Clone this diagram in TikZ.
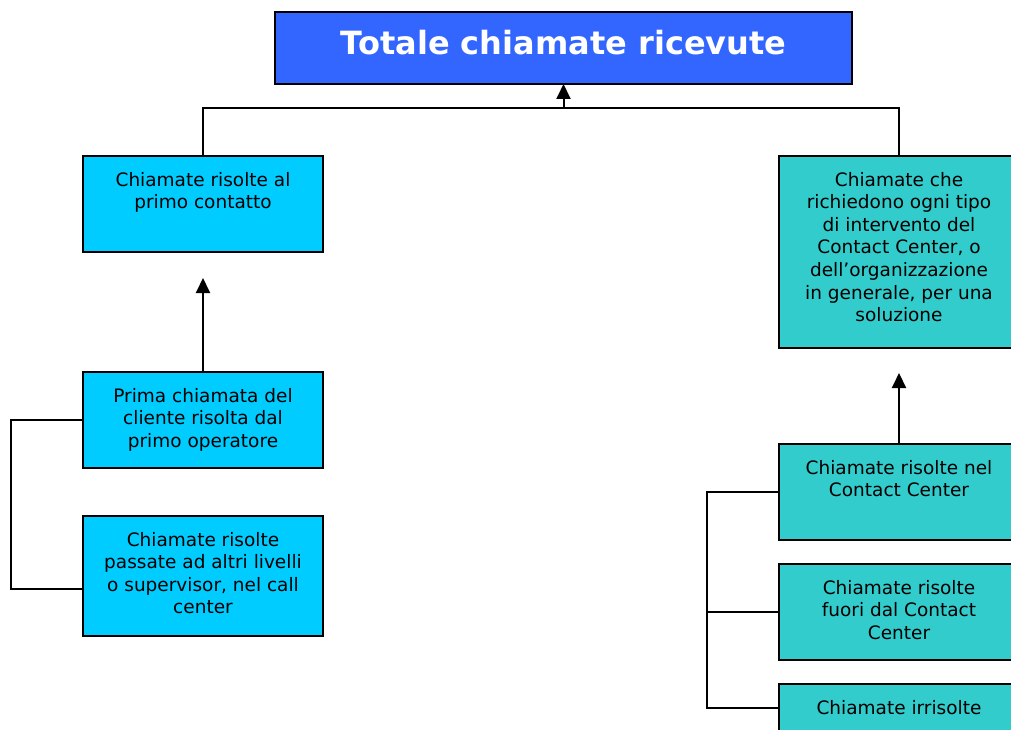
\documentclass[tikz,border=0pt]{standalone}
\usepackage{fontspec}
\setmainfont{DejaVu Sans}
\usetikzlibrary{arrows.meta}
\definecolor{titleblue}{RGB}{51,102,255}
\definecolor{leftcyan}{RGB}{0,204,255}
\definecolor{rightteal}{RGB}{51,204,204}
\newcommand{\bxtext}[3]{\parbox[c][#1][t]{#2}{\centering\fontsize{18.5pt}{22.6pt}\selectfont\rule{0pt}{30pt}#3}}
\tikzset{
  boxbase/.style={draw=black, line width=2pt, inner sep=0pt, outer sep=0pt, anchor=north west},
  lbox/.style={boxbase, fill=leftcyan},
  rbox/.style={boxbase, fill=rightteal},
  tbox/.style={boxbase, fill=titleblue},
  conn/.style={draw=black, line width=2pt},
  arr/.style={conn, -{Triangle[width=14pt,length=15pt]}}
}
\begin{document}
\begin{tikzpicture}[x=1pt,y=-1pt]
\useasboundingbox (0,0) rectangle (1011,730);
% title
\node[tbox] (title) at (275,12) {\parbox[c][72pt][t]{577pt}{\centering\fontsize{32pt}{36pt}\selectfont\bfseries\color{white}\rule{0pt}{43pt}Totale chiamate ricevute}};
% left boxes
\node[lbox] (l1) at (83,156) {\bxtext{96pt}{240pt}{Chiamate risolte al\\primo contatto}};
\node[lbox] (l2) at (83,372) {\bxtext{96pt}{240pt}{Prima chiamata del\\cliente risolta dal\\primo operatore}};
\node[lbox] (l3) at (83,516) {\bxtext{120pt}{240pt}{Chiamate risolte\\passate ad altri livelli\\o supervisor, nel call\\center}};
% right boxes
\node[rbox] (r1) at (779,156) {\bxtext{192pt}{240pt}{Chiamate che\\richiedono ogni tipo\\di intervento del\\Contact Center, o\\dell’organizzazione\\in generale, per una\\soluzione}};
\node[rbox] (r2) at (779,444) {\bxtext{96pt}{240pt}{Chiamate risolte nel\\Contact Center}};
\node[rbox] (r3) at (779,564) {\bxtext{96pt}{240pt}{Chiamate risolte\\fuori dal Contact\\Center}};
\node[rbox] (r4) at (779,684) {\bxtext{48pt}{240pt}{Chiamate irrisolte}};
% connectors to title
\coordinate (jt) at (563.5,108);
\draw[conn] (l1.north) |- (jt) -| (r1.north);
\draw[arr] (jt) -- (title.south);
% left group
\coordinate (ltip) at (203,278);
\draw[arr] (l2.north) -- (ltip);
\coordinate (lb) at (11,420);
\draw[conn] (l2.west) -- (lb) |- ([yshift=-13pt]l3.west);
% right group
\coordinate (rtip) at (899,373);
\draw[arr] (r2.north) -- (rtip);
\coordinate (rb) at (707,492);
\draw[conn] (r2.west) -- (rb) |- (r4.west);
\draw[conn] (rb |- r3.west) -- (r3.west);
\end{tikzpicture}
\end{document}
